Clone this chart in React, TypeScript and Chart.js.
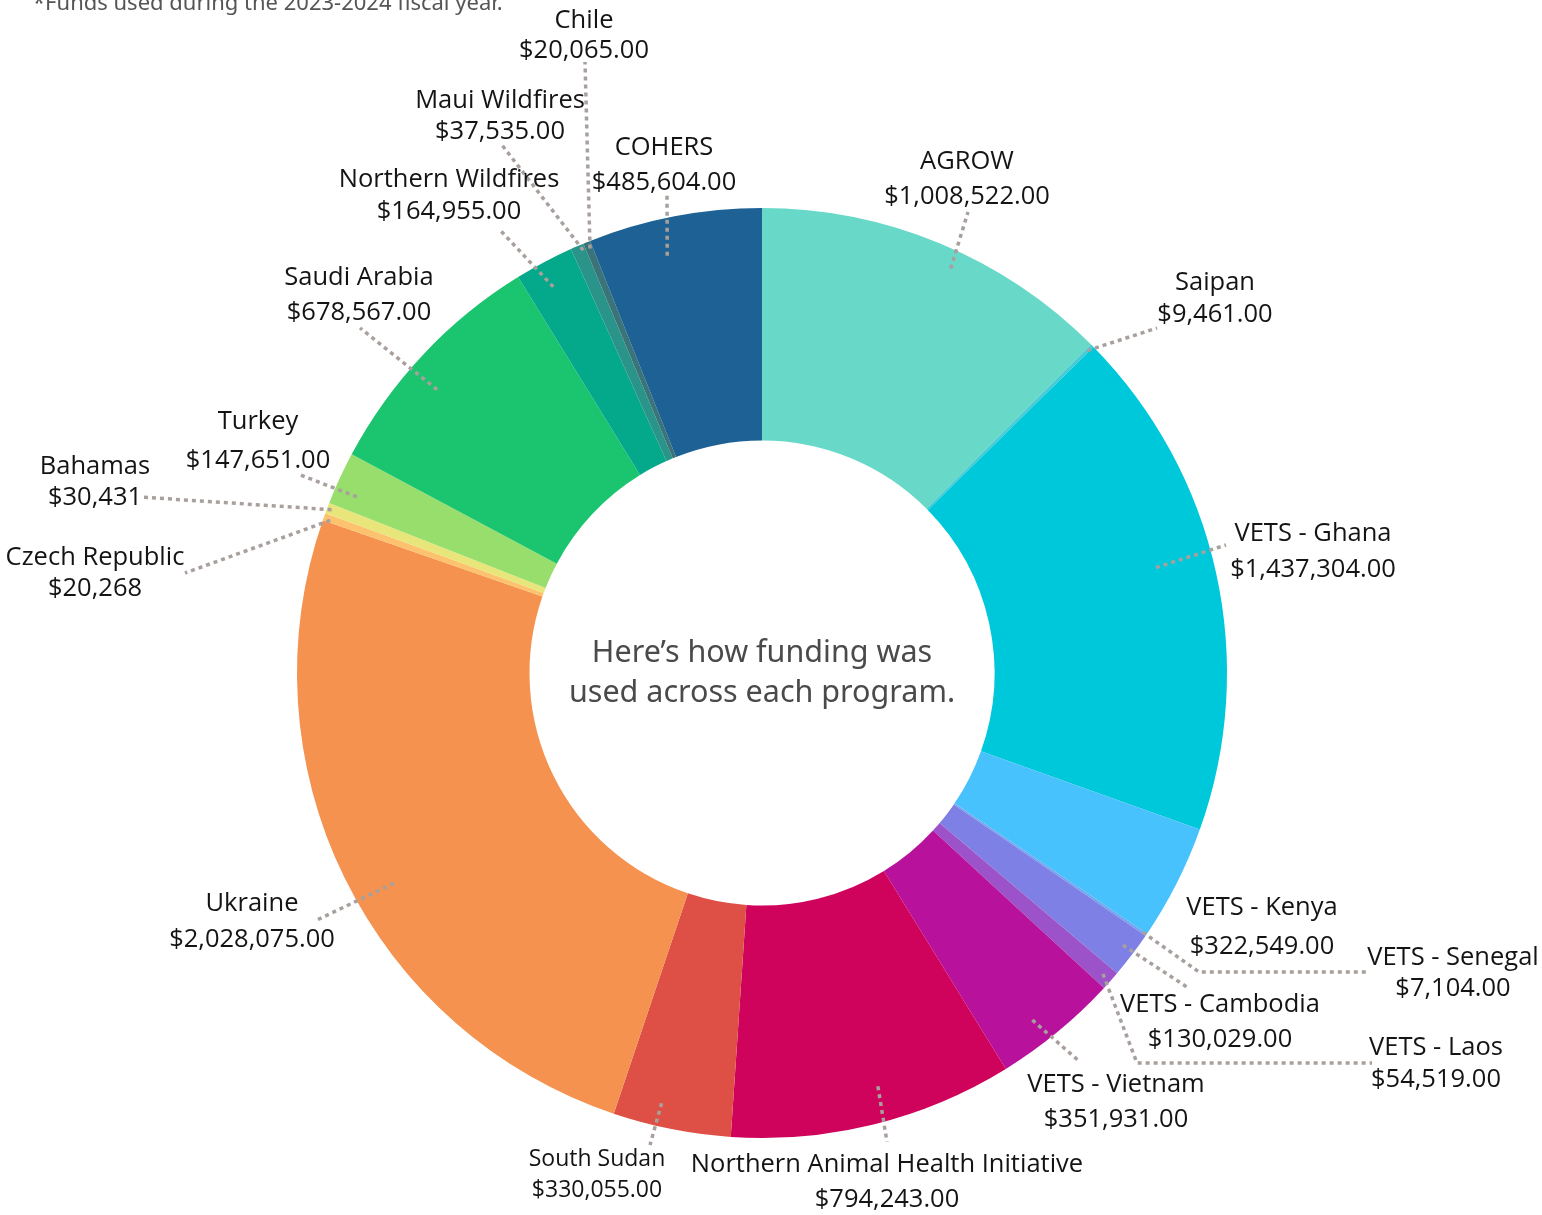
import React, { useEffect, useRef } from "react";
import { Chart, registerables } from "chart.js";

Chart.register(...registerables);

// ---- Data ----
const programs = [
  "AGROW",
  "Saipan",
  "VETS - Ghana",
  "VETS - Kenya",
  "VETS - Senegal",
  "VETS - Cambodia",
  "VETS - Laos",
  "VETS - Vietnam",
  "Northern Animal Health Initiative",
  "South Sudan",
  "Ukraine",
  "Czech Republic",
  "Bahamas",
  "Turkey",
  "Saudi Arabia",
  "Northern Wildfires",
  "Maui Wildfires",
  "Chile",
  "COHERS",
];

const amounts = [
  1008522, 9461, 1437304, 322549, 7104, 130029, 54519, 351931, 794243, 330055,
  2028075, 20268, 30431, 147651, 678567, 164955, 37535, 20065, 485604,
];

// programs whose amount is shown without cents
const noCents = ["Czech Republic", "Bahamas"];

const colors = [
  "#68D9C8", "#45CAD6", "#00C8DB", "#48C2FC", "#70A8F0", "#7F80E5", "#9C52C8",
  "#B8129C", "#D0035C", "#DE5046", "#F59250", "#FDC26D", "#E8E67A", "#98DE6C",
  "#1BC46F", "#04A88A", "#2A948A", "#3A7478", "#1D6195",
];

const subtitle = "*Funds used during the 2023-2024 fiscal year.";
const centerLines = ["Here\u2019s how funding was", "used across each program."];

// ---- Label layout (annotation placement) ----
type Layout = {
  x: number;
  y1: number;
  y2: number;
  t?: number; // position within slice for leader start (0..1)
  rf?: number; // radius fraction for leader start
  path?: number[][]; // leader path after start
  size?: number;
};

const layout: Layout[] = [
  { x: 967, y1: 160, y2: 195, t: 0.555, rf: 0.96, path: [[968, 212]] },
  { x: 1215, y1: 281, y2: 313, t: 0.5, rf: 0.985, path: [[1157, 328]] },
  { x: 1313, y1: 532, y2: 568, t: 0.46, rf: 0.877, path: [[1226, 545]] },
  { x: 1262, y1: 906, y2: 945 },
  { x: 1453, y1: 956, y2: 987, t: 0.5, rf: 0.99, path: [[1199, 972], [1368, 972]] },
  { x: 1220, y1: 1003, y2: 1038, t: 0.45, rf: 0.972, path: [[1187, 987]] },
  { x: 1436, y1: 1046, y2: 1078, t: 0.5, rf: 0.978, path: [[1137, 1063], [1372, 1063]] },
  { x: 1116, y1: 1083, y2: 1118, t: 0.6, rf: 0.946, path: [[1080, 1062]] },
  { x: 887, y1: 1163, y2: 1198, t: 0.45, rf: 0.923, path: [[887, 1142]] },
  { x: 597, y1: 1157, y2: 1188, t: 0.63, rf: 0.95, path: [[650, 1145]], size: 23 },
  { x: 252, y1: 902, y2: 938, t: 0.46, rf: 0.912, path: [[317, 920]] },
  { x: 95, y1: 556, y2: 587, t: 0.3, rf: 0.985, path: [[185, 573]] },
  { x: 95, y1: 465, y2: 496, t: 0.5, rf: 0.99, path: [[140, 497]] },
  { x: 258, y1: 420, y2: 459, t: 0.31, rf: 0.95, path: [[298, 474]] },
  { x: 359, y1: 276, y2: 311, t: 0.43, rf: 0.927, path: [[360, 328]] },
  { x: 449, y1: 178, y2: 210, t: 0.44, rf: 0.944, path: [[500, 230]] },
  { x: 500, y1: 99, y2: 130, t: 0.8, rf: 0.987, path: [[502, 145]] },
  { x: 584, y1: 19, y2: 49, t: 0.6, rf: 0.985, path: [[585, 62]] },
  { x: 664, y1: 146, y2: 181, t: 0.41, rf: 0.92, path: [[667, 193]] },
];

function fmt(name: string, v: number): string {
  const cents = !noCents.includes(name);
  return (
    "$" +
    v.toLocaleString("en-US", {
      minimumFractionDigits: cents ? 2 : 0,
      maximumFractionDigits: cents ? 2 : 0,
    })
  );
}

const LABEL_FONT = '"Open Sans", "Noto Sans", sans-serif';
const CENTER_FONT = '"Noto Sans", sans-serif';

const labelPlugin = {
  id: "programLabels",
  afterDraw(chart: any) {
    const ctx = chart.ctx as CanvasRenderingContext2D;
    const meta = chart.getDatasetMeta(0);
    ctx.save();

    // leader lines
    ctx.strokeStyle = "#A8A09C";
    ctx.lineWidth = 3.5;
    ctx.setLineDash([4, 4]);
    meta.data.forEach((arc: any, i: number) => {
      const L = layout[i];
      if (!L || !L.path) return;
      const p = arc.getProps(["x", "y", "startAngle", "endAngle", "outerRadius"], true);
      const a = p.startAngle + (L.t ?? 0.5) * (p.endAngle - p.startAngle);
      const r = p.outerRadius * (L.rf ?? 0.95);
      ctx.beginPath();
      ctx.moveTo(p.x + r * Math.cos(a), p.y + r * Math.sin(a));
      L.path.forEach((pt) => ctx.lineTo(pt[0], pt[1]));
      ctx.stroke();
    });
    ctx.setLineDash([]);

    // label texts
    ctx.fillStyle = "#141414";
    ctx.textAlign = "center";
    ctx.textBaseline = "middle";
    programs.forEach((name, i) => {
      const L = layout[i];
      const size = L.size ?? 25.5;
      ctx.font = `${size}px ${LABEL_FONT}`;
      ctx.fillText(name, L.x, L.y1 + 2);
      ctx.fillText(fmt(name, amounts[i]), L.x, L.y2 + 2);
    });

    // center text
    const cx = meta.data[0].x;
    const cy = meta.data[0].y;
    ctx.fillStyle = "#4A4A4A";
    ctx.font = `30.5px ${CENTER_FONT}`;
    ctx.fillText(centerLines[0], cx, cy - 20);
    ctx.fillText(centerLines[1], cx, cy + 20);

    // subtitle
    ctx.fillStyle = "#555555";
    ctx.textAlign = "left";
    ctx.font = `22px ${CENTER_FONT}`;
    ctx.fillText(subtitle, 33, 4);

    ctx.restore();
  },
};

export default function App() {
  const ref = useRef<HTMLCanvasElement | null>(null);

  useEffect(() => {
    if (!ref.current) return;
    const chart = new Chart(ref.current, {
      type: "doughnut",
      data: {
        labels: programs,
        datasets: [
          {
            data: amounts,
            backgroundColor: colors,
            borderWidth: 0,
          },
        ],
      },
      options: {
        responsive: false,
        animation: false,
        cutout: "50%",
        layout: { padding: { left: 297, top: 208, right: 315, bottom: 77 } },
        plugins: {
          legend: { display: false },
          tooltip: { enabled: false },
        },
      },
      plugins: [labelPlugin],
    });
    return () => chart.destroy();
  }, []);

  return (
    <div style={{ position: "absolute", left: 0, top: 0, width: 1542, height: 1215, background: "#fff" }}>
      <canvas ref={ref} width={1542} height={1215} style={{ display: "block" }} />
    </div>
  );
}
